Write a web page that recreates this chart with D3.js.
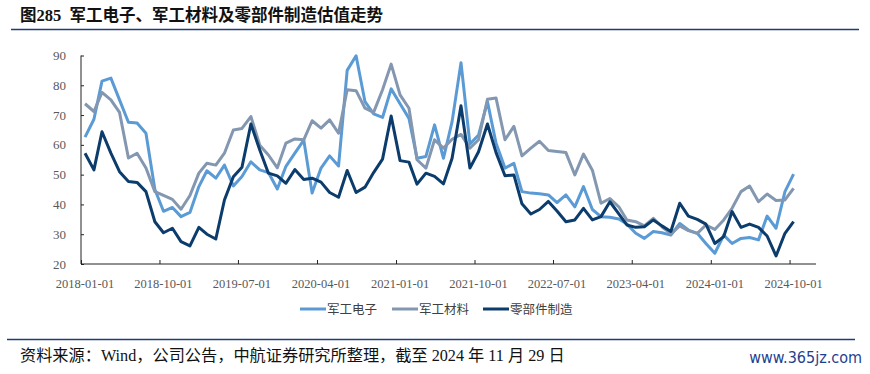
<!DOCTYPE html>
<html>
<head>
<meta charset="utf-8">
<script src="https://cdn.jsdelivr.net/npm/d3@7"></script>
<style>
  body { margin: 0; background: #fff; }
  svg { display: block; font-family: "Liberation Serif", "Noto Sans CJK SC", serif; }
</style>
</head>
<body>
<svg></svg>
<script>
let width = 870,
    height = 374

// monthly points, 2018-01 .. 2024-10
const months = d3.timeMonth.range(new Date(2018, 0, 1), new Date(2024, 10, 1))

const tickLabels = ["2018-01-01", "2018-10-01", "2019-07-01", "2020-04-01", "2021-01-01",
                    "2021-10-01", "2022-07-01", "2023-04-01", "2024-01-01", "2024-10-01"]

const yTicks = [20, 30, 40, 50, 60, 70, 80, 90]

const seriesNames = ["军工电子", "军工材料", "零部件制造"]
const seriesColors = ["#5b9bd5", "#8497b0", "#0b3c6c"]

const electronics = [62.6, 68.6, 81.4, 82.4, 75.1, 67.6, 67.3, 63.9, 45.0, 37.7, 39.0, 35.9,
    37.3, 46.0, 51.3, 48.8, 53.2, 46.2, 49.4, 54.3, 51.6, 50.7, 45.2, 52.8,
    57.2, 61.6, 43.8, 52.2, 56.3, 52.9, 85.0, 89.9, 74.5, 70.4, 69.2, 78.8,
    73.8, 68.9, 55.5, 56.1, 66.7, 55.5, 67.8, 87.6, 60.3, 63.3, 74.5, 60.5,
    52.2, 53.8, 44.3, 43.8, 43.6, 43.2, 40.6, 43.2, 39.2, 46.0, 38.3, 35.9,
    35.7, 35.1, 33.4, 30.3, 28.6, 30.9, 30.5, 29.7, 33.6, 31.4, 30.3, 26.9,
    23.6, 29.7, 26.9, 28.6, 28.9, 28.1, 36.1, 32.0, 44.3, 50.2]

const materials = [73.8, 71.2, 77.6, 75.1, 70.9, 55.6, 57.2, 52.2, 44.3, 43.0, 41.7, 38.4,
    43.0, 50.5, 53.8, 53.2, 57.2, 65.0, 65.5, 69.5, 59.9, 56.6, 52.3, 60.6,
    62.0, 61.7, 68.1, 65.6, 68.4, 63.9, 78.5, 78.2, 72.3, 70.9, 78.5, 87.1,
    76.8, 72.3, 55.0, 52.2, 61.7, 58.9, 61.9, 63.5, 58.9, 61.7, 75.3, 75.7,
    61.7, 66.2, 56.3, 58.9, 61.2, 58.1, 57.8, 57.4, 49.9, 56.9, 51.5, 40.4,
    42.0, 39.2, 34.8, 34.2, 32.8, 35.3, 32.5, 30.1, 32.8, 31.2, 30.3, 33.1,
    31.6, 34.8, 38.7, 44.3, 46.2, 40.9, 43.5, 41.3, 41.5, 45.4]

const parts = [57.2, 51.6, 64.4, 57.2, 51.0, 47.7, 47.4, 44.3, 34.2, 30.5, 32.0, 27.5,
    26.1, 32.3, 30.0, 28.4, 41.5, 49.3, 52.5, 67.0, 58.3, 50.5, 49.6, 47.1,
    51.7, 48.4, 48.8, 47.5, 44.0, 42.4, 51.4, 44.0, 45.8, 50.7, 55.2, 69.7,
    54.7, 54.2, 46.8, 50.5, 49.4, 46.9, 55.5, 73.1, 52.2, 57.7, 67.0, 57.4,
    49.6, 49.9, 40.2, 36.8, 38.3, 41.0, 37.8, 34.2, 34.8, 38.7, 34.8, 35.9,
    40.9, 36.8, 33.1, 32.3, 32.5, 34.8, 32.8, 30.9, 40.4, 36.1, 35.0, 33.4,
    26.9, 29.2, 37.6, 32.3, 33.4, 32.3, 29.4, 22.7, 30.3, 34.2]

const series = [electronics, materials, parts]

const parseDay = d3.timeParse("%Y-%m-%d")
const mid = d => d3.timeDay.offset(d, 14)

const svg = d3.select("svg")
    .attr("width", width)
    .attr("height", height)

const x = d3.scaleTime()
    .domain([new Date(2018, 0, 1), new Date(2025, 0, 1)])
    .range([81, 816])

const y = d3.scaleLinear()
    .domain([20, 90])
    .range([264, 55.5])

// title + rules
svg.append("text")
    .attr("x", 20)
    .attr("y", 21)
    .style("font-size", "16.5px")
    .style("font-weight", "bold")
    .style("white-space", "pre")
    .attr("fill", "#111")
    .text("图285  军工电子、军工材料及零部件制造估值走势")

svg.append("line")
    .attr("x1", 11).attr("x2", 859)
    .attr("y1", 29.5).attr("y2", 29.5)
    .attr("stroke", "#1f3c78")
    .attr("stroke-width", 1.5)

svg.append("line")
    .attr("x1", 7).attr("x2", 855)
    .attr("y1", 339.5).attr("y2", 339.5)
    .attr("stroke", "#1f3c78")
    .attr("stroke-width", 1.5)

// y axis
const yAxis = svg.append("g")
    .attr("transform", "translate(81,0)")
    .call(d3.axisRight(y).tickValues(yTicks).tickSize(3).tickFormat(""))
yAxis.select(".domain").attr("stroke", "#222").attr("d", "M0,55.5V264")
yAxis.selectAll(".tick line").attr("stroke", "#222")

svg.append("g")
    .selectAll("text")
    .data(yTicks)
    .enter()
    .append("text")
    .attr("x", 66)
    .attr("y", d => y(d) + 4.5)
    .attr("text-anchor", "end")
    .attr("fill", "#595959")
    .style("font-size", "13px")
    .text(d => d)

// x axis
const xAxis = svg.append("g")
    .attr("transform", "translate(0,264)")
    .call(d3.axisTop(x).tickValues(tickLabels.map(parseDay)).tickSize(4).tickFormat(""))
xAxis.select(".domain").attr("stroke", "#222").attr("d", "M81,0H816")
xAxis.selectAll(".tick line").attr("stroke", "#222")

svg.append("g")
    .selectAll("text")
    .data(tickLabels)
    .enter()
    .append("text")
    .attr("x", d => x(parseDay(d)) + 4)
    .attr("y", 288)
    .attr("text-anchor", "middle")
    .attr("fill", "#595959")
    .style("font-size", "12.5px")
    .text(d => d)

// lines
const line = d3.line()
    .x((d, i) => x(mid(months[i])))
    .y(d => y(d))

svg.append("g")
    .selectAll("path")
    .data(series)
    .enter()
    .append("path")
    .attr("d", line)
    .attr("fill", "none")
    .attr("stroke", (d, i) => seriesColors[i])
    .attr("stroke-width", 3)
    .attr("stroke-linejoin", "round")

// legend
const legendX = [300, 392, 483]
const legend = svg.append("g")
    .selectAll("g")
    .data(seriesNames)
    .enter()
    .append("g")
    .attr("transform", (d, i) => `translate(${legendX[i]},309)`)

legend.append("line")
    .attr("x1", 0).attr("x2", 26)
    .attr("stroke", (d, i) => seriesColors[i])
    .attr("stroke-width", 3)

legend.append("text")
    .attr("x", 27)
    .attr("y", 4.5)
    .attr("fill", "#404040")
    .style("font-size", "12.5px")
    .text(d => d)

// footer
svg.append("text")
    .attr("x", 20)
    .attr("y", 361)
    .attr("fill", "#111")
    .style("font-size", "16.2px")
    .text("资料来源：Wind，公司公告，中航证券研究所整理，截至 2024 年 11 月 29 日")

svg.append("text")
    .attr("x", 862)
    .attr("y", 363)
    .attr("text-anchor", "end")
    .attr("fill", "#1e3f8f")
    .style("font-family", "'Liberation Sans Narrow', 'DejaVu Sans Condensed', sans-serif")
    .style("font-size", "16px")
    .text("www.365jz.com")
</script>
</body>
</html>
